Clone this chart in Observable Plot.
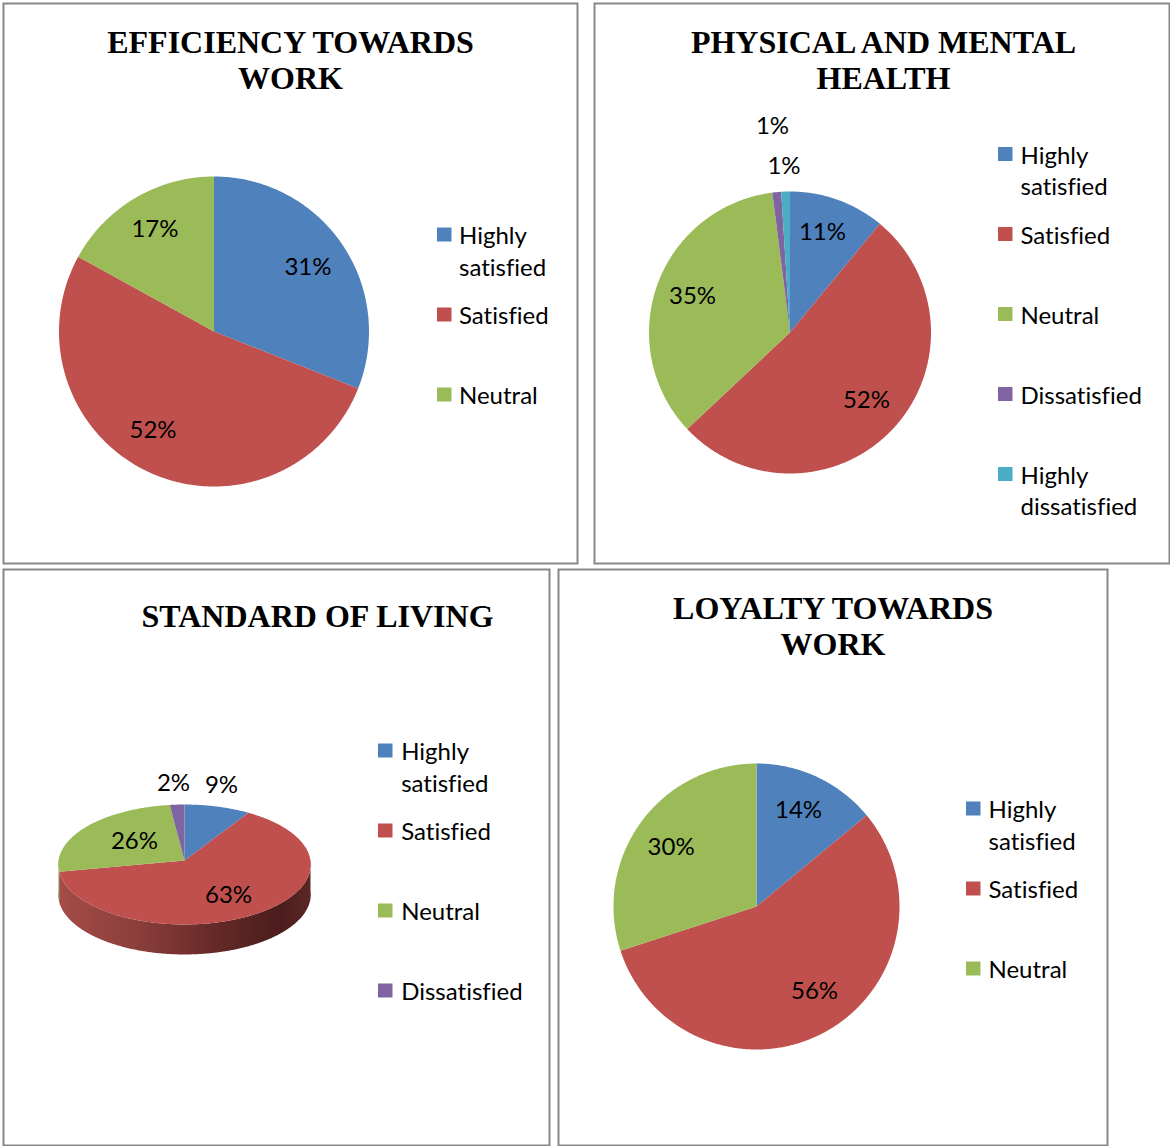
<!DOCTYPE html>
<html>
<head>
<meta charset="utf-8">
<script src="https://cdn.jsdelivr.net/npm/d3@7"></script>
<script src="https://cdn.jsdelivr.net/npm/@observablehq/plot@0.6"></script>
<style>
  html, body { margin: 0; padding: 0; background: #fff; }
  #page { position: relative; width: 1170px; height: 1146px; overflow: hidden; }
  #page svg { position: absolute; font-variant-ligatures: none; }
</style>
</head>
<body>
<div id="page"></div>
<script>
// ---------------- DATA ----------------
const efficiencyCategories = ["Highly satisfied", "Satisfied", "Neutral"];
const efficiencyValues = [31, 52, 17];

const healthCategories = ["Highly satisfied", "Satisfied", "Neutral", "Dissatisfied", "Highly dissatisfied"];
const healthValues = [11, 52, 35, 1, 1];

const livingCategories = ["Highly satisfied", "Satisfied", "Neutral", "Dissatisfied"];
const livingValues = [9, 63, 26, 2];

const loyaltyCategories = ["Highly satisfied", "Satisfied", "Neutral"];
const loyaltyValues = [14, 56, 30];

const chartTitles = [
  "EFFICIENCY TOWARDS\nWORK",
  "PHYSICAL AND MENTAL\nHEALTH",
  "STANDARD OF LIVING",
  "LOYALTY TOWARDS\nWORK"
];

// ---------------- STYLE ----------------
const allCategories = ["Highly satisfied", "Satisfied", "Neutral", "Dissatisfied", "Highly dissatisfied"];
const palette = ["#4F81BD", "#C0504D", "#9BBB59", "#8064A2", "#4BACC6"];
const sideFills = {"Satisfied": "url(#sideRed)", "Neutral": "url(#sideGreen)"};

// ---------------- LAYOUT ----------------
const layouts = [
  {left: 2, top: 2, W: 576, H: 562, cx: 211.5, cy: 329, rx: 155, ry: 155,
   titleX: 288, titleY: 50,
   labelK: [[0.733, 0.735], [0.924, 0.706], [0.748, 0.764]],
   legSwX: 435, legTextX: 456.5, legY: 241.5},
  {left: 593, top: 2, W: 577, H: 562, cx: 196.5, cy: 330, rx: 141, ry: 141,
   titleX: 290, titleY: 50.5,
   labelK: [[0.68, 0.754], [0.744, 0.705], [0.735, 0.754], [1.319, 1.467], [1.355, 1.178]],
   legSwX: 405, legTextX: 427, legY: 161},
  {left: 2, top: 568, W: 548, H: 578, cx: 182, cy: 292, rx: 126, ry: 59.7, persp: 0.0667, depth: 30,
   titleX: 315, titleY: 58.5,
   labelK: [[1.12, 1.39], [0.587, 0.67], [0.51, 0.562], [1.48, 1.378]],
   legSwX: 376, legTextX: 398.7, legY: 191.5},
  {left: 557, top: 568, W: 551, H: 578, cx: 199, cy: 338, rx: 143, ry: 143,
   titleX: 275.5, titleY: 50.5,
   labelK: [[0.69, 0.742], [0.842, 0.674], [0.738, 0.702]],
   legSwX: 409, legTextX: 431, legY: 249.5}
];

const datasets = [
  [efficiencyCategories, efficiencyValues],
  [healthCategories, healthValues],
  [livingCategories, livingValues],
  [loyaltyCategories, loyaltyValues]
];

const LABEL_FONT = "Lato, Carlito, 'Open Sans', sans-serif";
const TITLE_FONT = "'Liberation Serif', 'Times New Roman', serif";

// ---------------- GEOMETRY ----------------
function makeSlices(categories, values) {
  const total = d3.sum(values);
  let acc = 0;
  return categories.map((c, i) => {
    const a0 = acc / total * 2 * Math.PI;
    acc += values[i];
    const a1 = acc / total * 2 * Math.PI;
    return {category: c, value: values[i], a0, a1, mid: (a0 + a1) / 2};
  });
}
function project(L, t, kx = 1, ky = kx) {
  const s = Math.sin(t), c = Math.cos(t);
  const f = 1 + (L.persp || 0) * c;
  return [L.cx + kx * L.rx * s / f, L.cy - ky * L.ry * c / f];
}
function wedgePoints(L, s) {
  const pts = [{category: s.category, x: L.cx, y: L.cy}];
  const n = Math.max(2, Math.ceil((s.a1 - s.a0) / (Math.PI / 360)));
  for (let k = 0; k <= n; k++) {
    const t = s.a0 + (s.a1 - s.a0) * k / n;
    const [x, y] = project(L, t);
    pts.push({category: s.category, x, y});
  }
  pts.push({category: s.category, x: L.cx, y: L.cy});
  return pts;
}
function sidePoints(L, s) {
  const a = Math.max(s.a0, Math.PI / 2), b = Math.min(s.a1, 3 * Math.PI / 2);
  if (b <= a) return [];
  const n = Math.max(2, Math.ceil((b - a) / (Math.PI / 360)));
  const top = [], bottom = [];
  for (let k = 0; k <= n; k++) {
    const t = a + (b - a) * k / n;
    const [x, y] = project(L, t);
    top.push({category: s.category, x, y});
    bottom.push({category: s.category, x, y: y + L.depth});
  }
  return top.concat(bottom.reverse());
}

// ---------------- DRAW ----------------
const page = document.getElementById("page");

layouts.forEach((L, idx) => {
  const [categories, values] = datasets[idx];
  const sl = makeSlices(categories, values);
  const marks = [];

  // 3D side walls
  if (L.depth) {
    sl.forEach(s => {
      const pts = sidePoints(L, s);
      if (pts.length) marks.push(Plot.line(pts, {x: "x", y: "y", fill: sideFills[s.category] || "#666", stroke: "none", curve: "linear"}));
    });
  }

  // slices
  const wedges = sl.flatMap(s => wedgePoints(L, s));
  marks.push(Plot.line(wedges, {x: "x", y: "y", z: "category", fill: "category", stroke: "none", curve: "linear"}));

  // data labels
  const labels = sl.map((s, i) => {
    const [kx, ky] = L.labelK[i];
    const [x, y] = project(L, s.mid, kx, ky);
    return {x, y, text: `${s.value}%`};
  });
  marks.push(Plot.text(labels, {x: "x", y: "y", text: "text", fontFamily: LABEL_FONT, fontSize: 24, fill: "black", textAnchor: "middle", lineAnchor: "middle"}));

  // title
  const titleLines = chartTitles[idx].split("\n").map((t, j) => ({x: L.titleX, y: L.titleY + j * 36, text: t}));
  marks.push(Plot.text(titleLines, {x: "x", y: "y", text: "text", fontFamily: TITLE_FONT, fontWeight: "bold", fontSize: 32, fill: "black", textAnchor: "middle", lineAnchor: "bottom"}));

  // legend
  const swatches = [], legendLines = [];
  categories.forEach((c, i) => {
    const b = L.legY + i * 80;
    swatches.push({category: c, x1: L.legSwX, x2: L.legSwX + 14.5, y1: b - 16, y2: b - 2});
    const lines = c.startsWith("Highly ") ? ["Highly", c.slice(7)] : [c];
    lines.forEach((t, j) => legendLines.push({x: L.legTextX, y: b + j * 31.5, text: t}));
  });
  marks.push(Plot.rect(swatches, {x1: "x1", x2: "x2", y1: "y1", y2: "y2", fill: "category"}));
  marks.push(Plot.text(legendLines, {x: "x", y: "y", text: "text", fontFamily: LABEL_FONT, fontSize: 24, fill: "black", textAnchor: "start", lineAnchor: "bottom"}));

  // border
  marks.push(Plot.frame({stroke: "#878787", strokeWidth: 2, inset: 1}));

  const svg = Plot.plot({
    width: L.W, height: L.H, margin: 0,
    x: {domain: [0, L.W], range: [0, L.W], axis: null},
    y: {domain: [0, L.H], range: [0, L.H], axis: null},
    color: {domain: allCategories, range: palette},
    style: {background: "white", fontFamily: LABEL_FONT, overflow: "visible"},
    marks
  });

  if (L.depth) {
    const defs = d3.select(svg).insert("defs", ":first-child");
    const gr = defs.append("linearGradient").attr("id", "sideRed").attr("x1", "0").attr("x2", "1").attr("y1", "0").attr("y2", "0");
    [[0, "#a44c48"], [0.3, "#8c3f3c"], [0.65, "#622826"], [0.88, "#4b1d1c"], [1, "#5c2725"]]
      .forEach(([o, c]) => gr.append("stop").attr("offset", o).attr("stop-color", c));
    const gg = defs.append("linearGradient").attr("id", "sideGreen").attr("x1", "0").attr("x2", "1");
    [[0, "#86a24b"], [1, "#6f8a3d"]].forEach(([o, c]) => gg.append("stop").attr("offset", o).attr("stop-color", c));
  }

  svg.style.left = L.left + "px";
  svg.style.top = L.top + "px";
  page.appendChild(svg);
});
</script>
</body>
</html>
